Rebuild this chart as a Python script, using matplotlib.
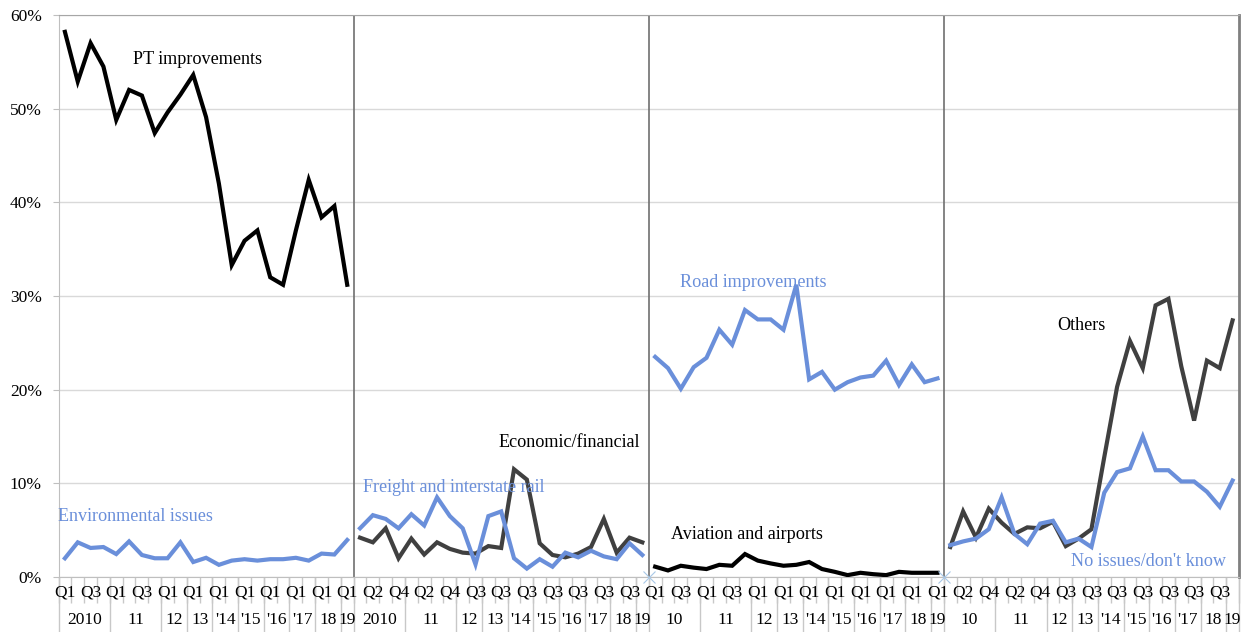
import numpy as np
import matplotlib
matplotlib.use('Agg')
import matplotlib.pyplot as plt

plt.rcParams['font.family'] = ['Liberation Serif', 'DejaVu Serif']

# Data (share of responses, %), 23 periods per panel: 2010 Q1..Q4, 2011 Q1..Q4, then Q1/Q3 to 2018, Q1 2019
pt_improvements = [58.2, 52.9, 57.0, 54.5, 48.8, 52.0, 51.4, 47.4, 49.6, 51.5, 53.6, 49.1,
                   42.0, 33.3, 35.9, 37.0, 32.0, 31.2, 37.0, 42.4, 38.4, 39.6, 31.2]
environmental = [2.0, 3.7, 3.1, 3.2, 2.45, 3.8, 2.35, 2.0, 2.0, 3.7, 1.6, 2.05,
                 1.3, 1.75, 1.9, 1.75, 1.9, 1.9, 2.05, 1.75, 2.5, 2.4, 3.95]
freight = [5.2, 6.6, 6.2, 5.2, 6.7, 5.5, 8.5, 6.5, 5.2, 1.35, 6.5, 7.0,
           2.0, 0.9, 1.9, 1.1, 2.6, 2.1, 2.8, 2.2, 1.9, 3.6, 2.35]
economic = [4.2, 3.7, 5.2, 2.0, 4.1, 2.4, 3.7, 3.0, 2.6, 2.5, 3.3, 3.1,
            11.5, 10.4, 3.6, 2.35, 2.1, 2.5, 3.2, 6.2, 2.6, 4.2, 3.7]
road = [23.5, 22.3, 20.1, 22.4, 23.4, 26.4, 24.8, 28.5, 27.5, 27.5, 26.4, 31.2,
        21.1, 21.9, 20.0, 20.8, 21.3, 21.5, 23.1, 20.5, 22.7, 20.8, 21.2]
aviation = [1.1, 0.7, 1.2, 1.0, 0.85, 1.3, 1.2, 2.45, 1.75, 1.45, 1.2, 1.3,
            1.6, 0.85, 0.55, 0.2, 0.45, 0.3, 0.2, 0.55, 0.45, 0.45, 0.45]
others = [3.2, 7.0, 4.2, 7.3, 5.8, 4.6, 5.3, 5.2, 5.9, 3.3, 4.1, 5.1,
          12.8, 20.3, 25.2, 22.3, 29.0, 29.7, 22.5, 16.7, 23.1, 22.3, 27.4]
no_issues = [3.4, 3.8, 4.1, 5.1, 8.5, 4.6, 3.5, 5.7, 6.0, 3.7, 4.1, 3.2,
             9.0, 11.2, 11.6, 15.0, 11.4, 11.4, 10.2, 10.2, 9.1, 7.5, 10.3]

quarters = ['Q1', 'Q2', 'Q3', 'Q4', 'Q1', 'Q2', 'Q3', 'Q4',
            'Q1', 'Q3', 'Q1', 'Q3', 'Q1', 'Q3', 'Q1', 'Q3', 'Q1', 'Q3',
            'Q1', 'Q3', 'Q1', 'Q3', 'Q1']
year_sizes = [4, 4, 2, 2, 2, 2, 2, 2, 2, 1]
years_a = ['2010', '11', '12', '13', "'14", "'15", "'16", "'17", '18', '19']
years_b = ['10', '11', '12', '13', "'14", "'15", "'16", "'17", '18', '19']
panel_years = [years_a, years_a, years_b, years_b]

n = len(quarters)
blue = '#6A8FDA'
dark = '#404040'

fig = plt.figure(figsize=(12.45, 6.32), dpi=100)
ax = fig.add_axes([58.5 / 1245, 55 / 632, 1180.5 / 1245, 562 / 632])

panels = [
    [(pt_improvements, 'black'), (environmental, blue)],
    [(economic, dark), (freight, blue)],
    [(road, blue), (aviation, 'black')],
    [(others, dark), (no_issues, blue)],
]
for p, series in enumerate(panels):
    x = np.arange(n) + p * n
    for vals, col in series:
        ax.plot(x, vals, color=col, lw=3, solid_joinstyle='miter', zorder=3)

ax.set_xlim(-0.5, 4 * n - 0.5)
ax.set_ylim(0, 60)
ax.set_yticks(range(0, 61, 10))
ax.set_yticklabels([f'{v}%' for v in range(0, 61, 10)], fontsize=12.5)
ax.tick_params(axis='y', length=4, color='#bfbfbf', pad=8)
ax.grid(axis='y', color='#d9d9d9', lw=1)
ax.set_axisbelow(True)
ax.set_xticks([])

ax.spines['left'].set_color('#bfbfbf')
ax.spines['bottom'].set_color('#bfbfbf')
ax.spines['top'].set_color('#a6a6a6')
ax.spines['right'].set_color('#808080')
ax.spines['right'].set_linewidth(2)

# panel separators
for p in range(1, 4):
    ax.axvline(p * n - 0.5, color='#707070', lw=1.2, zorder=2)
    if p > 1:
        ax.plot(p * n - 0.5, 0, marker='x', color='#a8c8e8', ms=8, mew=0.8,
                clip_on=False, zorder=4)

# category axis: quarter labels, year groups
tr = ax.get_xaxis_transform()
cat_edges = np.arange(4 * n + 1) - 0.5
ax.vlines(cat_edges, -0.046, 0, transform=tr, color='#c8c8c8', lw=1, clip_on=False)
for p in range(4):
    off = p * n
    for i in range(n):
        if (off + i) % 2 == 0:
            ax.text(off + i, -0.027, quarters[i], transform=tr, ha='center',
                    va='center', fontsize=12.5)
    start = 0
    for yl, size in zip(panel_years[p], year_sizes):
        ax.vlines(off + start - 0.5, -0.1, 0, transform=tr, color='#c8c8c8',
                  lw=1, clip_on=False)
        ax.text(off + start + (size - 1) / 2, -0.077, yl, transform=tr,
                ha='center', va='center', fontsize=12.5)
        start += size
ax.vlines(4 * n - 0.5, -0.1, 0, transform=tr, color='#c8c8c8', lw=1, clip_on=False)

# series labels
fs = 13.1
ax.text(5.3, 55.3, 'PT improvements', color='black', fontsize=fs, va='center')
ax.text(-0.5, 6.5, 'Environmental issues', color=blue, fontsize=fs, va='center')
ax.text(23.2, 9.6, 'Freight and interstate rail', color=blue, fontsize=fs, va='center')
ax.text(33.8, 14.4, 'Economic/financial', color='black', fontsize=fs, va='center')
ax.text(47.9, 31.4, 'Road improvements', color=blue, fontsize=fs, va='center')
ax.text(47.2, 4.5, 'Aviation and airports', color='black', fontsize=fs, va='center')
ax.text(77.3, 26.9, 'Others', color='black', fontsize=fs, va='center')
ax.text(78.4, 1.7, "No issues/don't know", color=blue, fontsize=fs, va='center')

fig.savefig('out.png', dpi=100)
